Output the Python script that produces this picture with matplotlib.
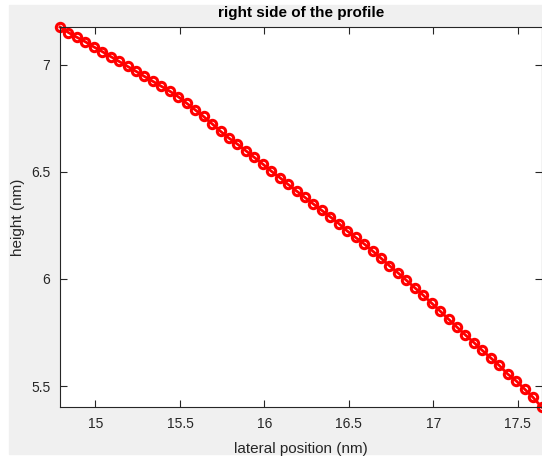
import matplotlib
matplotlib.use('Agg')
import matplotlib.pyplot as plt
from matplotlib.patches import Rectangle

plt.rcParams['font.family'] = ['Liberation Sans', 'DejaVu Sans']

# lateral position (nm)
x_pos = [14.79, 14.84, 14.89, 14.94, 14.99, 15.04, 15.09, 15.14, 15.19, 15.24,
         15.29, 15.34, 15.39, 15.44, 15.49, 15.54, 15.59, 15.64, 15.69, 15.74,
         15.79, 15.84, 15.89, 15.94, 15.99, 16.04, 16.09, 16.14, 16.19, 16.24,
         16.29, 16.34, 16.39, 16.44, 16.49, 16.54, 16.59, 16.64, 16.69, 16.74,
         16.79, 16.84, 16.89, 16.94, 16.99, 17.04, 17.09, 17.14, 17.19, 17.24,
         17.29, 17.34, 17.39, 17.44, 17.49, 17.54, 17.59, 17.64]

# height (nm)
height = [7.177, 7.151, 7.129, 7.108, 7.084, 7.062, 7.039, 7.016, 6.993, 6.970,
          6.946, 6.923, 6.900, 6.877, 6.851, 6.821, 6.790, 6.759, 6.725, 6.690,
          6.658, 6.630, 6.599, 6.568, 6.537, 6.504, 6.474, 6.442, 6.411, 6.381,
          6.350, 6.320, 6.290, 6.259, 6.224, 6.194, 6.164, 6.131, 6.097, 6.062,
          6.029, 5.994, 5.959, 5.924, 5.887, 5.850, 5.812, 5.775, 5.738, 5.703,
          5.666, 5.631, 5.596, 5.556, 5.524, 5.486, 5.447, 5.402]

xticks = [15, 15.5, 16, 16.5, 17, 17.5]
xtick_labels = ['15', '15.5', '16', '16.5', '17', '17.5']
yticks = [5.5, 6, 6.5, 7]
ytick_labels = ['5.5', '6', '6.5', '7']

fig = plt.figure(figsize=(5.42, 4.57), dpi=100, facecolor='white')
# grey figure window background (screenshot has thin white margin)
fig.patches.append(Rectangle((9 / 542, 3 / 457), 1, (457 - 8) / 457,
                             transform=fig.transFigure, color='#f0f0f0', zorder=-1))

ax = fig.add_axes([60 / 542, 50 / 457, 481.5 / 542, 380 / 457])
ax.plot(x_pos, height, 'o-', color='red', lw=2, ms=6, mew=2.2,
        mfc='none', clip_on=False)

ax.set_xlim(min(x_pos), max(x_pos))
ax.set_ylim(min(height), max(height))
ax.set_xticks(xticks)
ax.set_xticklabels(xtick_labels)
ax.set_yticks(yticks)
ax.set_yticklabels(ytick_labels)

c = '#262626'
ax.tick_params(direction='in', length=5, width=0.8, top=True, right=True,
               labelsize=10, colors=c, pad=7)
for s in ax.spines.values():
    s.set_color(c)
    s.set_linewidth(0.8)

ax.set_title('right side of the profile', fontsize=11, fontweight='bold', pad=7)
ax.set_xlabel('lateral position (nm)', fontsize=11, color=c, labelpad=8)
ax.set_ylabel('height (nm)', fontsize=11, color=c, labelpad=4)

fig.savefig('out.png', dpi=100, facecolor=fig.get_facecolor())
